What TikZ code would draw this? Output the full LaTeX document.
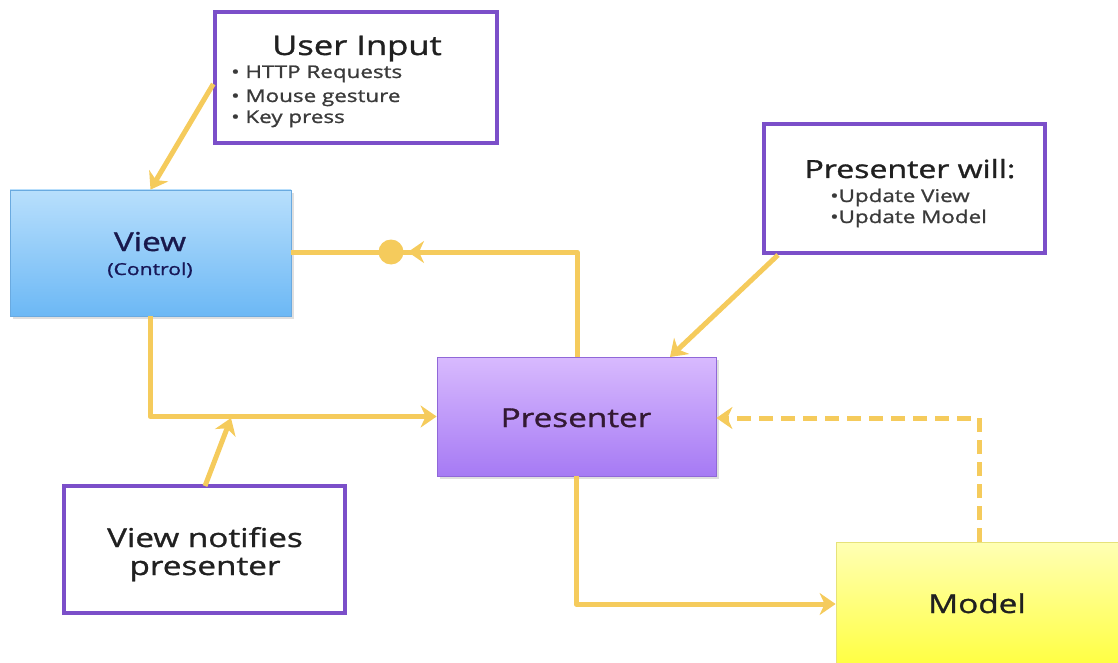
\documentclass[tikz,border=0pt]{standalone}
\usepackage{fontspec}
\setmainfont[FakeStretch=1.28,FakeBold=1.2]{Open Sans}
\usetikzlibrary{arrows.meta,shadows}

\definecolor{wire}{HTML}{F5CB5C}
\definecolor{notefr}{HTML}{7B4FC9}
\definecolor{ink}{HTML}{202020}
\definecolor{bulletink}{HTML}{3A3A3A}
\definecolor{viewtop}{HTML}{B8DFFC}
\definecolor{viewbot}{HTML}{6CB8F5}
\definecolor{viewfr}{HTML}{6AAAE0}
\definecolor{prestop}{HTML}{D8BAFE}
\definecolor{presbot}{HTML}{A67AF4}
\definecolor{presfr}{HTML}{9068D8}
\definecolor{modtop}{HTML}{FFFFB4}
\definecolor{modbot}{HTML}{FFFF3C}
\definecolor{modfr}{HTML}{E6E27A}

\tikzset{
  note/.style={draw=notefr, line width=3.5pt, fill=white, rectangle,
    minimum width=#1, inner sep=0pt},
  block/.style={rectangle, inner sep=0pt, line width=0.8pt,
    drop shadow={shadow xshift=2.5pt, shadow yshift=-2.5pt, opacity=0.25}},
  wirearrow/.style={draw=wire, line width=5pt, line join=round,
    -{Stealth[length=16pt,width=22pt,inset=5pt]}},
  big/.style={font=\fontsize{26}{30}\selectfont, text=ink, anchor=base, inner sep=0pt},
  small/.style={font=\fontsize{17.5}{20}\selectfont, text=bulletink, anchor=base west, inner sep=0pt},
}

\begin{document}
\begin{tikzpicture}[x=1pt,y=-1pt]
  \useasboundingbox (0,0) rectangle (1118,663);

  % ---- main blocks ----
  \node[block, draw=viewfr, top color=viewtop, bottom color=viewbot,
        minimum width=281pt, minimum height=126pt] (view) at (150.5,253) {};
  \node[big, text=ink!80!blue] at (150,251) {View};
  \node[font=\fontsize{16.5}{18}\selectfont, text=ink!75!blue, anchor=base, inner sep=0pt]
        at (150,275) {(Control)};

  \node[block, draw=presfr, top color=prestop, bottom color=presbot,
        minimum width=279pt, minimum height=119pt] (pres) at (576.5,416.5) {};
  \node[big, text=ink!80!violet] at (576,427) {Presenter};

  \node[block, draw=modfr, top color=modtop, bottom color=modbot,
        minimum width=290pt, minimum height=130pt] (model) at (981,607) {};
  \node[big] at (977,613) {Model};

  % ---- annotation boxes ----
  \node[note=282pt, minimum height=131pt] (input) at (356,77.5) {};
  \node[big, font=\fontsize{27}{30}\selectfont] at (357,55) {User Input};
  \node[small] at (231,78) {• HTTP Requests};
  \node[small] at (231,102) {• Mouse gesture};
  \node[small] at (231,123) {• Key press};

  \node[note=281pt, minimum height=129pt] (will) at (904.5,188.5) {};
  \node[big, font=\fontsize{25}{30}\selectfont] at (910,178) {Presenter will:};
  \node[small] at (830,202) {•Update View};
  \node[small] at (830,223) {•Update Model};

  \node[note=281pt, minimum height=127pt] (notify) at (204.5,549.5) {};
  \node[big] at (205,547) {View notifies};
  \node[big] at (205,575) {presenter};

  % ---- connectors ----
  \coordinate (inputfoot) at (input.west |- 0,84);
  \draw[wirearrow] (inputfoot) -- (view.north);

  \coordinate (willfoot) at (778,255);
  \coordinate (prestop) at (670,357);
  \draw[wirearrow] (willfoot) -- (prestop);

  % view -> presenter
  \coordinate (viewfoot) at (150,316);
  \draw[wirearrow] (viewfoot) |- (pres.west);

  % notification pointer onto the view->presenter line
  \coordinate (notifytop) at (205,486);
  \coordinate (notifytip) at (231,418);
  \draw[wirearrow] (notifytop) -- (notifytip);

  % presenter -> view (with the ball joint)
  \coordinate (presup) at (577,357);
  \coordinate (elbow) at (577,252);
  \coordinate (tipv) at (408,252);
  \draw[draw=wire, line width=5pt, line join=round] (presup) -- (elbow) -- (view.east |- elbow);
  \draw[wirearrow] (elbow) -- (tipv);
  \fill[wire] (391,252) circle (12.5pt);

  % presenter -> model
  \coordinate (presfoot) at (576,476);
  \draw[wirearrow] (presfoot) |- (model.west |- 0,604);

  % model -> presenter (dashed)
  \coordinate (modelup) at (979,542);
  \draw[wirearrow, dash pattern=on 14pt off 8pt] (modelup) |- (pres.east |- 0,418);
\end{tikzpicture}
\end{document}
